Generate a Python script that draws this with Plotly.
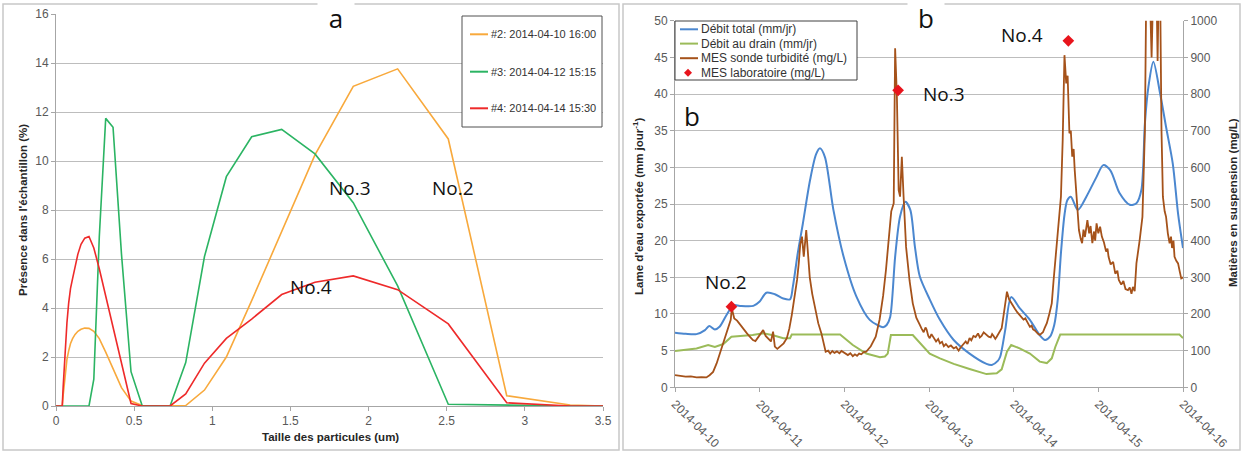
import pandas as pd
import plotly.graph_objects as go

W, H = 1243, 453

# ---------------- Panel a : granulometry of the three samples ----------------
taille_um = [0.0, 0.040, 0.046, 0.053, 0.061, 0.070, 0.081, 0.093, 0.106, 0.122, 0.140,
             0.160, 0.184, 0.211, 0.242, 0.277, 0.318, 0.365, 0.419, 0.480, 0.551,
             0.632, 0.730, 0.830, 0.950, 1.090, 1.252, 1.444, 1.657, 1.902, 2.186,
             2.510, 2.884, 3.290, 3.500]

pct_no2 = [0, 0, 0.45, 0.95, 1.45, 1.9, 2.25, 2.55, 2.75, 2.92, 3.05,
           3.13, 3.18, 3.17, 3.05, 2.75, 2.2, 1.5, 0.75, 0.2, 0.02,
           0, 0, 0.02, 0.65, 2.0, 4.3, 7.1, 10.25, 13.05, 13.76,
           10.9, 0.42, 0.04, 0]
pct_no3 = [0, 0, 0, 0, 0, 0, 0, 0, 0, 0, 0,
           0, 0, 0, 1.1, 6.9, 11.74, 11.38, 6.2, 1.4, 0.02,
           0, 0, 1.77, 6.1, 9.36, 10.99, 11.29, 10.29, 8.3, 4.9,
           0.07, 0.03, 0, 0]
pct_no4 = [0, 0, 0.8, 1.7, 2.6, 3.4, 4.2, 4.8, 5.2, 5.7, 6.2,
           6.6, 6.85, 6.92, 6.45, 5.6, 4.5, 3.2, 1.7, 0.1, 0.0,
           0, 0, 0.49, 1.75, 2.76, 3.55, 4.55, 5.05, 5.31, 4.75,
           3.35, 0.13, 0.0, 0]

noms_a = ["#2: 2014-04-10 16:00", "#3: 2014-04-12 15:15", "#4: 2014-04-14 15:30"]
couleurs_a = ["#F8A93C", "#2BB463", "#EE2A2A"]

# ---------------- Panel b : flows and suspended matter ----------------
# (hours since 2014-04-10 00:00, value)
debit_total_pts = [
    (0, 7.45), (3, 7.3), (6.1, 7.25), (8.5, 7.8), (9.7, 8.36), (11.3, 7.9), (12.7, 8.3),
    (14.6, 9.86), (16.6, 11.2), (18.4, 11.1), (22.2, 11.1), (24, 11.7), (25.9, 12.9),
    (28.3, 12.7), (30.7, 12.1), (32.6, 12.0), (33.4, 13.7), (34.8, 18.3), (36.2, 22.2),
    (38.3, 28.3), (40, 31.8), (41.1, 32.6), (42.5, 31.4), (44.9, 24.2), (47.8, 17.8),
    (51.4, 12.4), (55.2, 9.2), (59, 8.2), (60, 8.5), (61, 9.6), (62.4, 17.8), (63.8, 23.3),
    (65.3, 25.3), (66.7, 24.2), (68, 19.2), (69.4, 15.1), (72.2, 12.0), (75.1, 9.2),
    (79, 6.45), (83.5, 4.6), (88.3, 3.2), (89.8, 3.05), (91.5, 3.6), (92.2, 4.2),
    (93.6, 7.8), (95.3, 12.3), (97.7, 10.8), (100.6, 9.2), (103.4, 7.1), (104.9, 6.45),
    (106.3, 6.9), (107.5, 8.5), (108.5, 12.0), (109.4, 18.3), (110.4, 23.5), (111.2, 25.5),
    (112.2, 26.0), (114.2, 24.2), (116.6, 26.0), (119.5, 28.7), (121.4, 30.3), (123.4, 29.6),
    (126, 26.5), (128.9, 24.9), (130.8, 25.1), (132.2, 26.9), (133.2, 36.0), (134.2, 41.0),
    (135.6, 44.4), (137.5, 40.1), (139.2, 35.5), (141.1, 30.5), (142.6, 23.7), (144, 19.0),
]
debit_drain_pts = [
    (0, 4.95), (3, 5.1), (6.1, 5.3), (9.4, 5.77), (11.3, 5.5), (13.7, 5.9), (16, 6.9),
    (18.5, 7.0), (22, 7.13), (25, 7.36), (27.8, 7.1), (30.7, 6.7), (32.6, 6.7), (33.1, 7.2),
    (46.8, 7.2), (50.4, 5.77), (54.2, 4.6), (58.1, 4.1), (59.5, 4.2), (60.3, 4.6),
    (61.2, 7.13), (67.4, 7.13), (69.5, 6.0), (72.2, 4.6), (75.1, 3.95), (79, 3.2),
    (83.5, 2.5), (88.3, 1.8), (91.2, 1.9), (92.6, 2.45), (94.1, 4.85), (95.3, 5.77),
    (97.7, 5.3), (100.6, 4.6), (103.4, 3.5), (105.4, 3.3), (106.8, 3.95), (107.8, 5.5),
    (109.2, 7.2), (143, 7.2), (144, 6.7),
]
mes_sonde_pts = [
    (0, 33), (1.5, 31), (3, 29), (4.5, 30), (6.1, 27), (7.5, 28), (8.9, 27), (9.8, 33),
    (10.8, 42), (11.8, 65), (12.7, 93), (13.6, 120), (14.6, 152), (15.3, 170), (15.8, 184),
    (16.1, 215), (16.5, 196), (16.8, 188), (17.6, 182), (18.5, 170), (19.4, 160),
    (20.4, 147), (21.2, 138), (22.1, 129), (22.8, 126), (23.5, 135), (24.3, 145),
    (25.0, 156), (25.7, 140), (26.4, 134), (27.2, 125), (27.8, 152), (28.3, 111),
    (29.0, 105), (29.8, 111), (30.8, 120), (31.7, 134), (32.4, 160), (33.1, 197),
    (33.9, 245), (34.6, 293), (35.1, 340), (35.5, 390), (36.0, 411), (36.5, 356),
    (37.2, 429), (37.7, 360), (38.2, 300), (38.9, 255), (39.8, 211), (40.6, 175),
    (41.5, 147), (42.1, 120), (42.7, 97), (43.4, 100), (44.0, 92), (44.6, 99), (45.2, 94),
    (45.9, 98), (46.6, 93), (47.2, 99), (47.8, 95), (48.4, 90), (49.0, 88), (49.7, 93),
    (50.4, 85), (51.0, 90), (51.6, 86), (52.2, 92), (52.8, 90), (53.5, 96), (54.2, 97),
    (55.5, 112), (56.2, 125), (56.9, 138), (58.0, 185), (59.0, 250), (59.8, 320),
    (60.7, 411), (61.3, 480), (62.0, 502), (62.4, 925), (62.9, 793), (63.4, 538),
    (63.8, 520), (64.3, 629), (64.8, 520), (65.5, 383), (66.5, 290), (67.4, 229),
    (68.4, 190), (68.9, 178), (69.4, 170), (69.9, 160), (70.5, 150), (71.0, 163),
    (71.3, 158), (71.8, 140), (72.2, 134), (72.7, 145), (73.1, 138), (73.6, 128),
    (74.0, 125), (74.6, 132), (75.1, 120), (75.7, 124), (76.2, 112), (76.8, 118),
    (77.5, 110), (78.2, 114), (79.0, 106), (79.7, 110), (80.4, 100), (80.9, 108),
    (81.3, 112), (81.9, 120), (82.4, 125), (82.9, 118), (83.5, 134), (84.0, 128),
    (84.6, 140), (85.2, 137), (85.9, 147), (86.4, 136), (86.9, 140), (87.5, 150),
    (88.3, 143), (88.9, 138), (89.5, 136), (89.9, 145), (90.3, 140), (90.8, 132),
    (91.2, 138), (91.6, 145), (92.0, 150), (92.6, 161), (93.2, 200), (94.1, 261),
    (94.7, 240), (95.3, 229), (95.8, 222), (96.3, 215), (97.0, 205), (97.7, 197),
    (98.3, 190), (98.8, 185), (99.3, 188), (99.8, 178), (100.2, 170), (100.6, 165),
    (101.1, 168), (101.5, 158), (102.0, 155), (102.4, 150), (102.9, 146), (103.4, 143),
    (103.9, 148), (104.3, 150), (104.8, 162), (105.4, 175), (106.1, 200), (106.8, 229),
    (107.3, 290), (107.8, 347), (108.3, 390), (108.7, 429), (109.4, 520), (109.9, 675),
    (110.4, 906), (110.9, 829), (111.3, 850), (111.8, 693), (112.2, 700), (112.6, 629),
    (113.0, 650), (113.3, 593), (113.9, 500), (114.5, 429), (115.0, 405), (115.4, 393),
    (115.8, 430), (116.2, 410), (116.9, 456), (117.4, 420), (117.8, 440), (118.3, 393),
    (118.8, 425), (119.1, 400), (119.5, 447), (120.0, 420), (120.5, 438), (121.0, 411),
    (121.6, 395), (122.2, 370), (122.6, 378), (122.9, 356), (123.5, 335), (124.2, 342),
    (124.8, 310), (125.4, 318), (125.8, 293), (126.5, 280), (127.1, 290), (127.7, 268),
    (128.4, 265), (128.9, 272), (129.4, 255), (129.8, 274), (130.3, 262), (130.8, 338),
    (131.7, 400), (132.5, 465), (133.2, 702), (133.6, 1100), (134.4, 1150), (135.1, 900),
    (135.7, 1150), (136.4, 1150), (136.8, 890), (137.2, 1150), (137.5, 1100),
    (137.9, 702), (138.3, 520), (138.8, 480), (139.2, 465), (139.7, 420), (140.2, 393),
    (140.6, 411), (140.9, 380), (141.3, 400), (141.6, 356), (142.1, 345), (142.6, 338),
    (143.1, 315), (143.5, 297), (144.0, 300),
]
mes_labo_heures = [16.0, 63.25, 111.5]
mes_labo_mgl = [220, 810, 945]

noms_b = ["Débit total (mm/jr)", "Débit au drain (mm/jr)",
          "MES sonde turbidité (mg/L)", "MES laboratoire (mg/L)"]
couleurs_b = ["#4B87CF", "#9BBB59", "#A5521A", "#E8141C"]

t0 = pd.Timestamp("2014-04-10")


def horodatage(heures):
    return [t0 + pd.Timedelta(hours=h) for h in heures]


def split(pts):
    return horodatage([p[0] for p in pts]), [p[1] for p in pts]


def X(px):
    return px / W


def Y(py):
    return 1 - py / H


fig = go.Figure()

for nom, vals, col in zip(noms_a, [pct_no2, pct_no3, pct_no4], couleurs_a):
    fig.add_trace(go.Scatter(x=taille_um, y=vals, name=nom, mode="lines",
                             line=dict(color=col, width=1.6),
                             xaxis="x", yaxis="y", showlegend=False))

tx, ty = split(debit_total_pts)
fig.add_trace(go.Scatter(x=tx, y=ty, name=noms_b[0], mode="lines",
                         line=dict(color=couleurs_b[0], width=2, shape="spline",
                                   smoothing=0.8),
                         xaxis="x2", yaxis="y2", showlegend=False))
tx, ty = split(debit_drain_pts)
fig.add_trace(go.Scatter(x=tx, y=ty, name=noms_b[1], mode="lines",
                         line=dict(color=couleurs_b[1], width=2),
                         xaxis="x2", yaxis="y2", showlegend=False))
tx, ty = split(mes_sonde_pts)
fig.add_trace(go.Scatter(x=tx, y=ty, name=noms_b[2], mode="lines",
                         line=dict(color=couleurs_b[2], width=1.8),
                         xaxis="x2", yaxis="y3", showlegend=False))
fig.add_trace(go.Scatter(x=horodatage(mes_labo_heures), y=mes_labo_mgl, name=noms_b[3],
                         mode="markers",
                         marker=dict(symbol="diamond", size=9, color=couleurs_b[3]),
                         xaxis="x2", yaxis="y3", showlegend=False))

tick_font = dict(family="Liberation Sans, Arial, sans-serif", size=12, color="#595959")
grid = "#bdbdbd"
axline = "#a6a6a6"
common = dict(zeroline=False, showline=True, linecolor=axline, ticks="outside",
              ticklen=4, tickcolor=axline, tickfont=tick_font, automargin=False)

fig.update_layout(
    width=W, height=H, margin=dict(l=0, r=0, t=0, b=0, autoexpand=False),
    paper_bgcolor="white", plot_bgcolor="white", showlegend=False,
    xaxis=dict(domain=[X(56), X(603)], range=[0, 3.5], dtick=0.5, anchor="y",
               showgrid=False, **common),
    yaxis=dict(domain=[Y(406), Y(14)], range=[0, 16], dtick=2, anchor="x",
               showgrid=True, gridcolor=grid, **common),
    xaxis2=dict(domain=[X(675), X(1183)], type="date",
                range=["2014-04-10", "2014-04-16"], tick0="2014-04-10",
                dtick=86400000, tickformat="%Y-%m-%d", tickangle=45, anchor="y2",
                showgrid=False, **common),
    yaxis2=dict(domain=[Y(387.3), Y(20.7)], range=[0, 50], dtick=5, anchor="x2",
                showgrid=True, gridcolor=grid, **common),
    yaxis3=dict(range=[0, 1000], dtick=100, overlaying="y2", side="right", anchor="x2",
                showgrid=False, **common),
)

shapes = []
# panel frames
for x0, x1 in [(3, 619), (623, 1240)]:
    shapes.append(dict(type="rect", xref="paper", yref="paper", x0=X(x0), x1=X(x1),
                       y0=Y(450), y1=Y(4), line=dict(color="#c8c8c8", width=1.5),
                       layer="below"))

# legend of panel a
shapes.append(dict(type="rect", xref="paper", yref="paper", x0=X(462), x1=X(602),
                   y0=Y(127), y1=Y(16), line=dict(color="#505050", width=1),
                   fillcolor="white", layer="above"))
leg_a_y = [34.3, 71.7, 108.3]
for yy, col in zip(leg_a_y, couleurs_a):
    shapes.append(dict(type="line", xref="paper", yref="paper", x0=X(470), x1=X(488),
                       y0=Y(yy), y1=Y(yy), line=dict(color=col, width=2), layer="above"))

# legend of panel b
shapes.append(dict(type="rect", xref="paper", yref="paper", x0=X(675), x1=X(857),
                   y0=Y(80), y1=Y(21), line=dict(color="#404040", width=1),
                   fillcolor="white", layer="above"))
leg_b_y = [29.3, 43.6, 58.2, 72.7]
for yy, col in zip(leg_b_y[:3], couleurs_b[:3]):
    shapes.append(dict(type="line", xref="paper", yref="paper", x0=X(680), x1=X(698),
                       y0=Y(yy), y1=Y(yy), line=dict(color=col, width=2), layer="above"))
cx, cy, r = 688, leg_b_y[3], 4
shapes.append(dict(type="path", xref="paper", yref="paper", layer="above",
                   path=f"M {X(cx - r)} {Y(cy)} L {X(cx)} {Y(cy - r)} L {X(cx + r)} {Y(cy)} "
                        f"L {X(cx)} {Y(cy + r)} Z",
                   fillcolor=couleurs_b[3], line=dict(color=couleurs_b[3], width=0)))

annotations = []
leg_font_a = dict(family="Liberation Sans, Arial, sans-serif", size=11, color="#333333")
for yy, nom in zip(leg_a_y, noms_a):
    annotations.append(dict(xref="paper", yref="paper", x=X(489), y=Y(yy), text=nom,
                            showarrow=False, xanchor="left", yanchor="middle",
                            font=leg_font_a))
leg_font_b = dict(family="Liberation Sans, Arial, sans-serif", size=12, color="#333333")
for yy, nom in zip(leg_b_y, noms_b):
    annotations.append(dict(xref="paper", yref="paper", x=X(699), y=Y(yy), text=nom,
                            showarrow=False, xanchor="left", yanchor="middle",
                            font=leg_font_b))

titre_font = dict(family="Liberation Sans, Arial, sans-serif", size=11.5, color="#262626")
annotations += [
    dict(xref="paper", yref="paper", x=X(330), y=Y(437), text="<b>Taille des particules (um)</b>",
         showarrow=False, xanchor="center", yanchor="middle", font=titre_font),
    dict(xref="paper", yref="paper", x=X(23), y=Y(210),
         text="<b>Présence dans l'échantillon (%)</b>", textangle=-90,
         showarrow=False, xanchor="center", yanchor="middle", font=titre_font),
    dict(xref="paper", yref="paper", x=X(638), y=Y(206),
         text="<b>Lame d'eau exportée (mm jour<sup>-1</sup>)</b>", textangle=-90,
         showarrow=False, xanchor="center", yanchor="middle", font=titre_font),
    dict(xref="paper", yref="paper", x=X(1233), y=Y(203),
         text="<b>Matières en suspension (mg/L)</b>", textangle=-90,
         showarrow=False, xanchor="center", yanchor="middle", font=titre_font),
]

label_font = dict(family="Open Sans, sans-serif", size=19, color="#111111")
for txt, x, y in [("No.3", 350, 188), ("No.2", 453, 188), ("No.4", 311, 287),
                  ("No.2", 726, 282), ("No.3", 944, 94), ("No.4", 1022, 35)]:
    annotations.append(dict(xref="paper", yref="paper", x=X(x), y=Y(y), text=txt,
                            showarrow=False, xanchor="center", yanchor="middle",
                            font=label_font))

panel_font = dict(family="Open Sans, sans-serif", size=26, color="#111111")
annotations += [
    dict(xref="paper", yref="paper", x=X(336), y=Y(18), text="a", showarrow=False,
         xanchor="center", yanchor="middle", font=panel_font, bgcolor="white",
         width=34, height=34),
    dict(xref="paper", yref="paper", x=X(926), y=Y(18), text="b", showarrow=False,
         xanchor="center", yanchor="middle", font=panel_font, bgcolor="white",
         width=34, height=34),
    dict(xref="paper", yref="paper", x=X(692), y=Y(116), text="b", showarrow=False,
         xanchor="center", yanchor="middle", font=panel_font),
]

fig.update_layout(shapes=shapes, annotations=annotations)
fig.write_html("out.html")
